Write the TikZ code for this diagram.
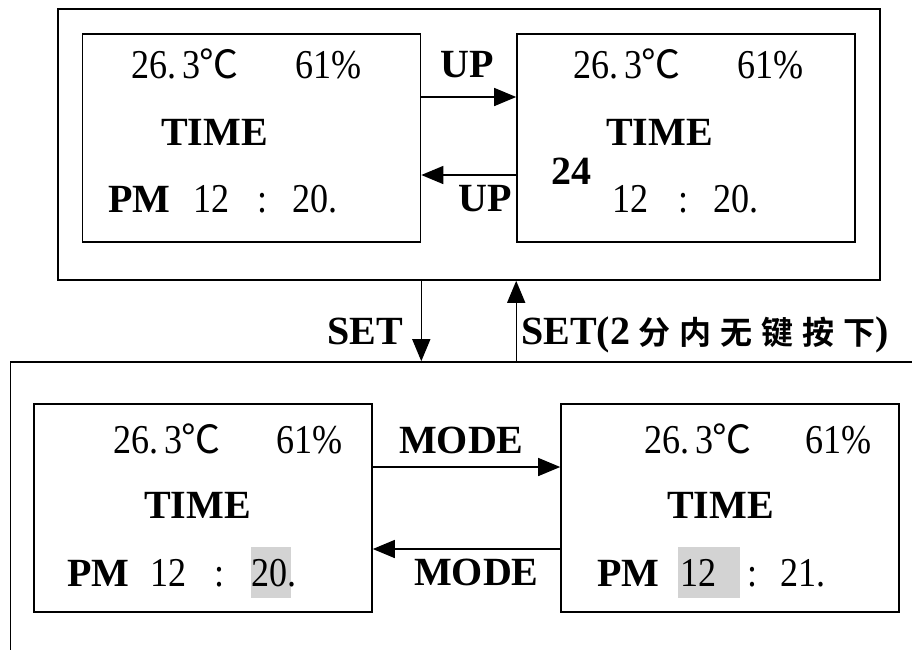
\documentclass[tikz,border=0pt]{standalone}
\usepackage{fontspec}
\setmainfont{Liberation Serif}
\newfontfamily\digitfont[FakeStretch=0.88]{Liberation Serif}
\newfontfamily\cjkfont[BoldFont={Noto Sans CJK SC Bold}]{Noto Sans CJK SC}
\usetikzlibrary{arrows.meta}
\definecolor{hilite}{RGB}{211,211,211}
\newcommand{\degc}{{\cjkfont\fontsize{39}{44}\selectfont\kern-1pt ℃}}
\tikzset{
  screen/.style={draw, line width=1.6pt, minimum width=338pt, minimum height=208pt, inner sep=0pt},
  frame/.style={draw, line width=1.6pt, inner sep=0pt},
  arr/.style={line width=1.4pt, -{Triangle[length=22pt, width=18pt]}},
  lcd/.style={anchor=base west, inner sep=0pt, font=\digitfont\fontsize{41}{44}\selectfont},
  key/.style={anchor=base west, inner sep=0pt, font=\bfseries\fontsize{40}{44}\selectfont},
}
\begin{document}
\begin{tikzpicture}[x=1pt, y=-1pt]
    \useasboundingbox (0,0) rectangle (912,649);
    \clip (0,0) rectangle (912,649);

    % Frames
    \node[frame, minimum width=822pt, minimum height=271pt] (topframe) at (469,144.5) {};
    \node[frame, minimum width=989pt, minimum height=438pt] (botframe) at (505,581) {};

    % Screens
    \node[screen] (tl) at (251.5,138) {};
    \node[screen] (tr) at (686,138) {};
    \node[screen] (bl) at (203,508) {};
    \node[screen] (br) at (730,508) {};

    % Highlighted digits
    \fill[hilite] (251,547) rectangle (291,598);
    \fill[hilite] (678,547) rectangle (740,598);

    % Top left screen
    \node[lcd] (tl1) at (131,78) {26.\kern6pt3\degc};
    \node[lcd] (tl2) at (295,78) {61\%};
    \node[key] (tl3) at (161,145) {TIME};
    \node[key] (tl4) at (108,212) {PM};
    \node[lcd] (tl5) at (193,212) {12};
    \node[lcd] (tl6) at (257,212) {:};
    \node[lcd] (tl7) at (292,212) {20.};

    % Top right screen
    \node[lcd] (tr1) at (573,78) {26.\kern6pt3\degc};
    \node[lcd] (tr2) at (737,78) {61\%};
    \node[key] (tr3) at (606,145) {TIME};
    \node[key] (tr4) at (551,184) {24};
    \node[lcd] (tr5) at (612,212) {12};
    \node[lcd] (tr6) at (678,212) {:};
    \node[lcd] (tr7) at (713,212) {20.};

    % Bottom left screen
    \node[lcd] (bl1) at (113,453) {26.\kern6pt3\degc};
    \node[lcd] (bl2) at (276,453) {61\%};
    \node[key] (bl3) at (144,518) {TIME};
    \node[key] (bl4) at (67,586) {PM};
    \node[lcd] (bl5) at (150,586) {12};
    \node[lcd] (bl6) at (214,586) {:};
    \node[lcd] (bl7) at (251,586) {20.};

    % Bottom right screen
    \node[lcd] (br1) at (644,453) {26.\kern6pt3\degc};
    \node[lcd] (br2) at (805,453) {61\%};
    \node[key] (br3) at (667,518) {TIME};
    \node[key] (br4) at (597,586) {PM};
    \node[lcd] (br5) at (680,586) {12};
    \node[lcd] (br6) at (747,586) {:};
    \node[lcd] (br7) at (780,586) {21.};

    % Key labels
    \node[key] (up1) at (440,77) {UP};
    \node[key] (up2) at (458,211) {UP};
    \node[key] (mode1) at (399,453) {MODE};
    \node[key] (mode2) at (414,585) {MODE};
    \node[key] (set1) at (327,344) {SET};
    \node[key] (set2) at (521,344) {SET(2\kern8pt{\cjkfont\fontsize{32}{34}\selectfont 分\kern9pt 内\kern9pt 无\kern9pt 键\kern9pt 按\kern9pt 下})};

    % Transitions
    \draw[arr] ([yshift=41pt]tl.east) -- ([yshift=41pt]tr.west);
    \draw[arr] ([yshift=-37pt]tr.west) -- ([yshift=-37pt]tl.east);
    \draw[arr] ([yshift=41pt]bl.east) -- ([yshift=41pt]br.west);
    \draw[arr] ([yshift=-41pt]br.west) -- ([yshift=-41pt]bl.east);
    \draw[arr] (tl.east |- topframe.south) -- (tl.east |- botframe.north);
    \draw[arr] (tr.west |- botframe.north) -- (tr.west |- topframe.south);
\end{tikzpicture}
\end{document}
